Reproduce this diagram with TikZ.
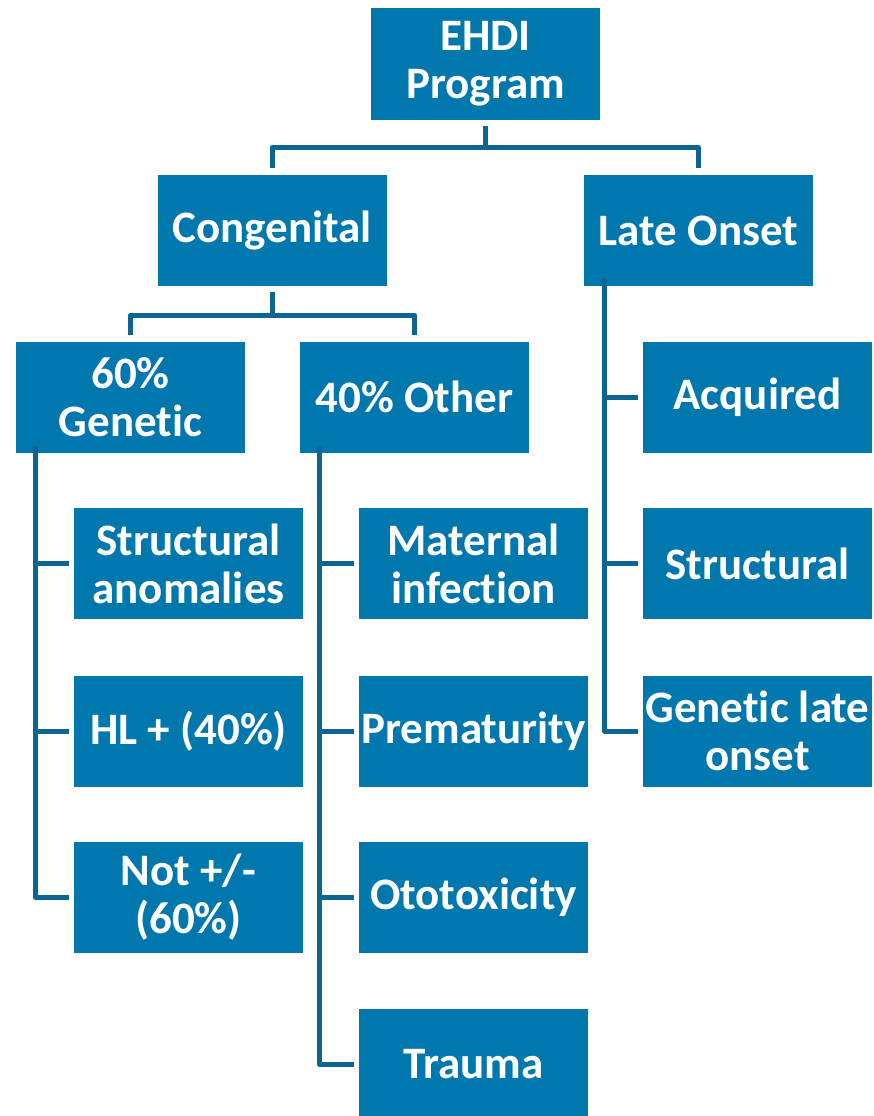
\documentclass[tikz,border=0pt]{standalone}
\usepackage{fontspec}
\setmainfont{Carlito}[Ligatures={NoCommon,NoRare}]
\begin{document}
\begin{tikzpicture}[x=1pt,y=-1pt,
  box/.style={fill=boxblue, draw=none, minimum width=229pt, minimum height=111pt,
    inner sep=0pt, align=center, text=white, font=\bfseries\fontsize{45}{48}\selectfont},
  conn/.style={draw=lineblue, line width=5pt, line join=round, line cap=butt}]
\definecolor{boxblue}{RGB}{0,119,173}
\definecolor{lineblue}{RGB}{12,100,145}
\useasboundingbox (0,0) rectangle (873,1116);
\node[box] (ehdi) at (485.5,64) {EHDI\\Program};
\node[box] (cong) at (272,230.5) {Congenital};
\node[box] (late) at (698.5,230.5) {Late Onset};
\node[box] (gen) at (130.5,397) {60\%\\Genetic};
\node[box] (oth) at (414.5,397) {40\% Other};
\node[box] (acq) at (757.5,397) {Acquired};
\node[box] (sa) at (188.5,563.5) {Structural\\anomalies};
\node[box] (hl) at (188.5,731) {HL + (40\%)};
\node[box] (not) at (188.5,897.5) {Not +/-\\(60\%)};
\node[box] (mat) at (473.5,563.5) {Maternal\\infection};
\node[box] (pre) at (473.5,731) {Prematurity};
\node[box] (oto) at (473.5,897.5) {Ototoxicity};
\node[box] (tra) at (473.5,1064.5) {Trauma};
\node[box] (str) at (757.5,563.5) {Structural};
\node[box] (glo) at (757.5,731) {Genetic late\\onset};
% top level
\draw[conn, shorten <=6pt, shorten >=7pt] (ehdi.south) -- ++(0,28) -| (cong.north);
\draw[conn, shorten <=6pt, shorten >=7pt] (ehdi.south) -- ++(0,28) -| (late.north);
\draw[conn, shorten <=6pt, shorten >=6pt] (cong.south) -- ++(0,29) -| (gen.north);
\draw[conn, shorten <=6pt, shorten >=6pt] (cong.south) -- ++(0,29) -| (oth.north);
% branches
\foreach \t in {sa,hl,not}
  \draw[conn, shorten >=5pt] ([xshift=20pt,yshift=7pt]gen.south west) |- (\t.west);
\foreach \t in {mat,pre,oto,tra}
  \draw[conn, shorten >=5pt] ([xshift=20pt,yshift=7pt]oth.south west) |- (\t.west);
\foreach \t in {acq,str,glo}
  \draw[conn, shorten >=5pt] ([xshift=21pt,yshift=7pt]late.south west) |- (\t.west);
\end{tikzpicture}
\end{document}
